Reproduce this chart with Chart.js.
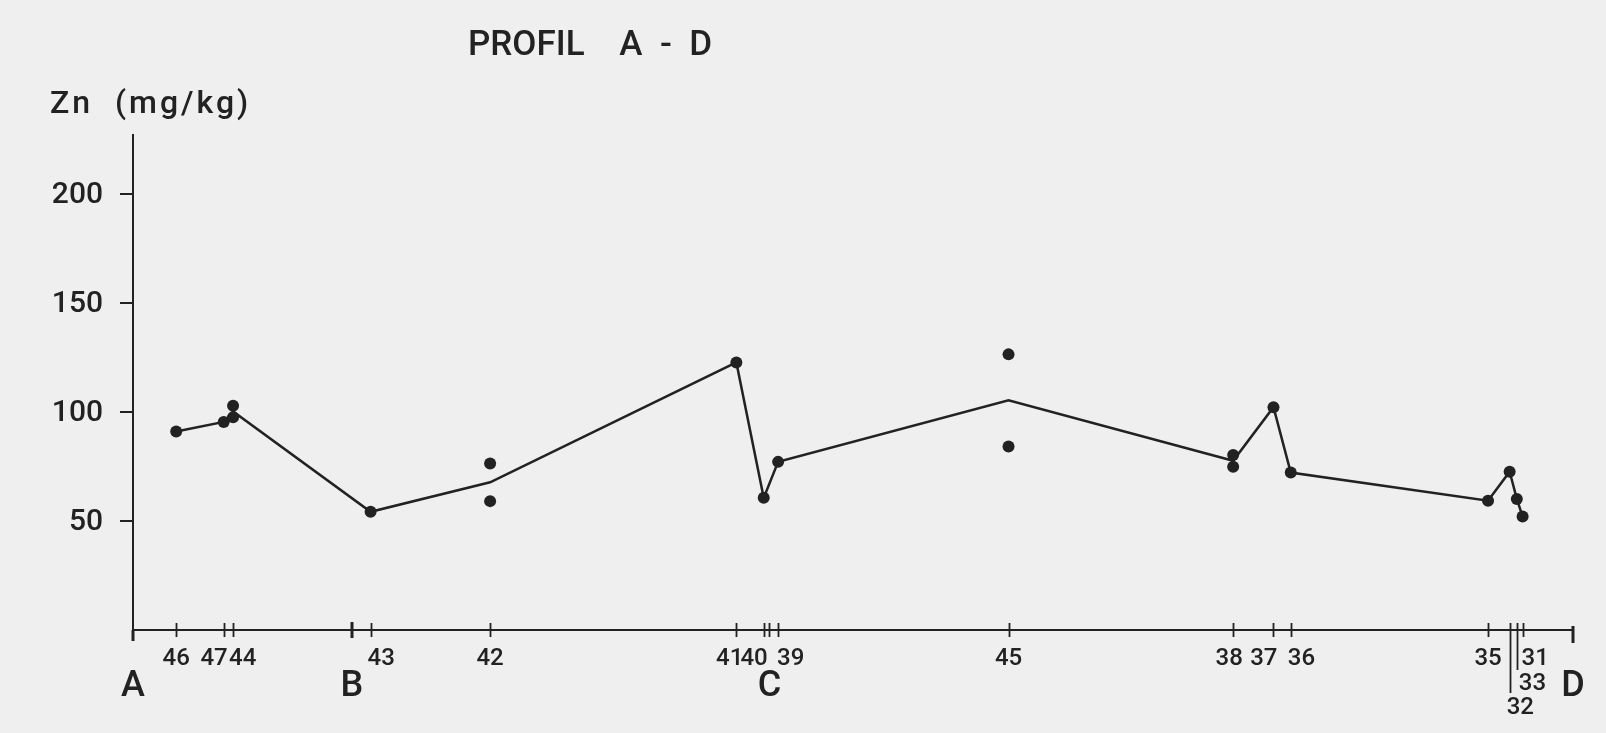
<!DOCTYPE html>
<html>
<head>
<meta charset="utf-8">
<title>Profil A - D</title>
<script src="https://cdn.jsdelivr.net/npm/chart.js@4"></script>
<style>
  html, body { margin: 0; padding: 0; background: #efefef; }
  canvas { display: block; }
</style>
</head>
<body>
<canvas id="profileChart" width="1606" height="733"></canvas>
<script>
// sampling stations along the profile, in order of distance
const stations = ['46', '47', '44', '43', '42', '41', '40', '39', '45', '38', '37', '36', '35', '32', '33', '31'];
// distance along the profile (A = 0, D = 100)
const distance = [3.0, 6.3, 6.95, 16.5, 24.8, 41.9, 43.8, 44.8, 60.8, 76.4, 79.2, 80.4, 94.1, 95.6, 96.1, 96.5];
// Zn in mg/kg, one or two samples per station
const znValues = [
    [91.0], [95.4], [102.8, 97.6], [54.2], [76.4, 59.1], [122.7], [60.6], [77.1],
    [126.4, 84.2], [80.3, 74.9], [102.2], [72.2], [59.3], [72.6], [60.1], [52.0]
];
// section markers
const sections = ['A', 'B', 'C', 'D'];
const sectionDistance = [0, 15.2, 44.2, 100];
const yTicks = [50, 100, 150, 200];

const INK = '#222222';
const FONT = 'Roboto';

// how each station label sits next to its tick
const labelStyle = {
    '47': { align: 'right', dx: 4 },
    '44': { align: 'left', dx: -4 },
    '43': { align: 'left', dx: -3 },
    '41': { align: 'right', dx: 7 },
    '40': { align: 'right', dx: 4 },
    '39': { align: 'left', dx: -1 },
    '38': { align: 'center', dx: -4 },
    '37': { align: 'right', dx: 4 },
    '36': { align: 'left', dx: -3 },
    '31': { align: 'left', dx: -1 },
    '33': { align: 'left', dx: 2, row: 1, down: 40 },
    '32': { align: 'left', dx: -3, row: 2, down: 63 }
};

function mean(arr) {
    return arr.reduce((a, b) => a + b, 0) / arr.length;
}

const meanLine = stations.map((s, i) => ({ x: distance[i], y: mean(znValues[i]) }));
const samplePoints = [];
stations.forEach((s, i) => {
    znValues[i].forEach(v => samplePoints.push({ x: distance[i], y: v }));
});

const profilePlugin = {
    id: 'profileText',
    afterDraw(chart) {
        const ctx = chart.ctx;
        const xScale = chart.scales.x;
        const y0 = chart.chartArea.bottom;
        ctx.save();
        ctx.strokeStyle = INK;
        ctx.fillStyle = INK;

        // station ticks crossing the axis
        ctx.lineWidth = 1.8;
        stations.forEach((name, i) => {
            const px = Math.round(xScale.getPixelForValue(distance[i])) + 0.5;
            const st = labelStyle[name] || {};
            ctx.beginPath();
            ctx.moveTo(px, y0 - 7);
            ctx.lineTo(px, y0 + (st.down || 7));
            ctx.stroke();
        });

        // section boundary ticks
        sections.forEach((name, i) => {
            const px = Math.round(xScale.getPixelForValue(sectionDistance[i]));
            ctx.beginPath();
            if (name === 'A') {
                ctx.lineWidth = 3;
                ctx.moveTo(px, y0);
                ctx.lineTo(px, y0 + 11);
            } else if (name === 'B') {
                ctx.lineWidth = 3;
                ctx.moveTo(px, y0 - 8);
                ctx.lineTo(px, y0 + 8);
            } else if (name === 'C') {
                ctx.lineWidth = 1.8;
                ctx.moveTo(px + 0.5, y0 - 7);
                ctx.lineTo(px + 0.5, y0 + 7);
            } else {
                ctx.lineWidth = 3;
                ctx.moveTo(px, y0 - 4);
                ctx.lineTo(px, y0 + 13);
            }
            ctx.stroke();
        });

        // station labels
        ctx.font = '500 24px ' + FONT;
        ctx.textBaseline = 'middle';
        stations.forEach((name, i) => {
            const px = xScale.getPixelForValue(distance[i]);
            const st = labelStyle[name] || {};
            ctx.textAlign = st.align || 'center';
            ctx.fillText(name, px + (st.dx || 0), y0 + 29 + (st.row || 0) * 24.5);
        });

        // section letters
        ctx.font = '500 36px ' + FONT;
        ctx.textAlign = 'center';
        sections.forEach((name, i) => {
            ctx.fillText(name, xScale.getPixelForValue(sectionDistance[i]), y0 + 57);
        });

        // title and unit
        ctx.textAlign = 'left';
        ctx.textBaseline = 'alphabetic';
        ctx.font = '500 35px ' + FONT;
        ctx.fillText('PROFIL    A  -  D', 468, 55);
        ctx.font = '500 32px ' + FONT;
        ctx.letterSpacing = '3px';
        ctx.fillText('Zn  (mg/kg)', 50, 113);
        ctx.letterSpacing = '0px';
        ctx.restore();
    }
};

const ctx = document.getElementById('profileChart').getContext('2d');
const chart = new Chart(ctx, {
    type: 'scatter',
    data: {
        datasets: [
            {
                label: 'Zn',
                data: samplePoints,
                backgroundColor: INK,
                borderWidth: 0,
                pointRadius: 6,
                pointHoverRadius: 6
            },
            {
                label: 'Mittelwert',
                data: meanLine,
                showLine: true,
                borderColor: INK,
                borderWidth: 2.5,
                pointRadius: 0,
                pointHoverRadius: 0,
                tension: 0
            }
        ]
    },
    options: {
        responsive: false,
        animation: false,
        devicePixelRatio: 1,
        layout: { padding: { top: 135, right: 33, bottom: 0, left: 0 } },
        plugins: {
            legend: { display: false },
            tooltip: { enabled: false }
        },
        scales: {
            x: {
                type: 'linear',
                min: 0,
                max: 100,
                ticks: { display: false },
                grid: { display: false },
                border: { display: true, color: INK, width: 2 },
                afterFit: (scale) => { scale.height = 103; }
            },
            y: {
                min: 0,
                max: 227,
                afterBuildTicks: (scale) => { scale.ticks = yTicks.map(v => ({ value: v })); },
                afterFit: (scale) => { scale.width = 133; },
                ticks: {
                    font: { family: FONT, size: 30, weight: '500' },
                    color: INK,
                    padding: 17,
                    labelOffset: 2
                },
                grid: {
                    drawOnChartArea: false,
                    tickLength: 13,
                    color: INK,
                    lineWidth: 2
                },
                border: { display: true, color: INK, width: 2 }
            }
        }
    },
    plugins: [profilePlugin]
});
</script>
</body>
</html>
